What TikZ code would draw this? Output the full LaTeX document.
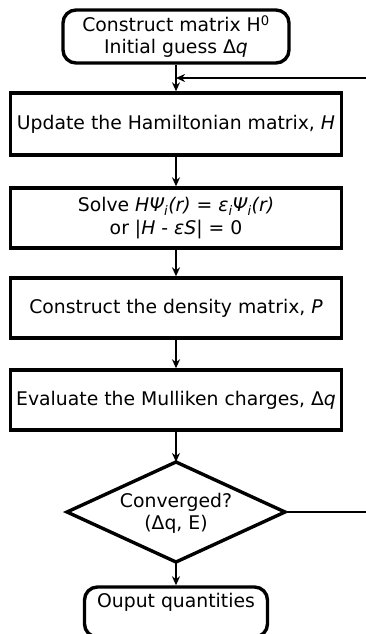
\documentclass[tikz,border=0pt]{standalone}
\usepackage{fontspec}
\setmainfont{DejaVu Sans}
\usetikzlibrary{shapes.geometric,arrows.meta}
\begin{document}
\begin{tikzpicture}[x=1pt,y=-1pt,
  font=\fontsize{18.8}{22}\selectfont,
  boxst/.style={draw,line width=3.4pt,minimum width=331pt,minimum height=60pt,inner sep=0pt,align=center},
  roundst/.style={draw,line width=3.4pt,rounded corners=13pt,inner sep=0pt,align=center},
  arr/.style={line width=2.4pt,-{Stealth[length=9pt,width=8pt]}},
  ln/.style={line width=2.4pt},
  diast/.style={draw,line width=3.4pt,line join=miter}]
\useasboundingbox (0,0) rectangle (366,634);
\clip (0,0) rectangle (366,634);
\node[roundst,minimum width=226pt,minimum height=53pt] (start) at (176,36.5) {Construct matrix H\textsuperscript{0}\\Initial guess Δ\textit{q}};
\node[boxst,minimum height=62pt] (upd) at (176,124) {Update the Hamiltonian matrix, \textit{H}};
\node[boxst] (solve) at (176,218) {Solve \textit{HΨ\textsubscript{i}(r)} = \textit{ε\textsubscript{i}Ψ\textsubscript{i}(r)}\\[1pt]or |\textit{H} - \textit{εS}| = 0};
\node[boxst] (dens) at (176,308) {Construct the density matrix, \textit{P}};
\node[boxst] (mull) at (176,400) {Evaluate the Mulliken charges, Δ\textit{q}};
\coordinate (cN) at (176,462);
\coordinate (cE) at (285,512);
\coordinate (cS) at (176,562);
\coordinate (cW) at (67,512);
\draw[diast] (cN) -- (cE) -- (cS) -- (cW) -- cycle;
\node[align=center,inner sep=0pt] (conv) at (176,513) {Converged?\\(Δq, E)};
\node[roundst,minimum width=183pt,minimum height=50pt,text depth=22pt,text height=12pt] (out) at (176,612) {Ouput quantities};
\coordinate (loopR) at (372,512);
\coordinate (loopT) at (372,78);
\coordinate (join) at (176,78);
\draw[ln] (start.south) -- (join);
\draw[arr] (join) -- (upd.north);
\draw[arr] (cE) -- (loopR) -- (loopT) -- (join);
\draw[arr] (upd.south) -- (solve.north);
\draw[arr] (solve.south) -- (dens.north);
\draw[arr] (dens.south) -- (mull.north);
\draw[arr] (mull.south) -- (cN);
\draw[arr] (cS) -- (out.north);
\end{tikzpicture}
\end{document}
